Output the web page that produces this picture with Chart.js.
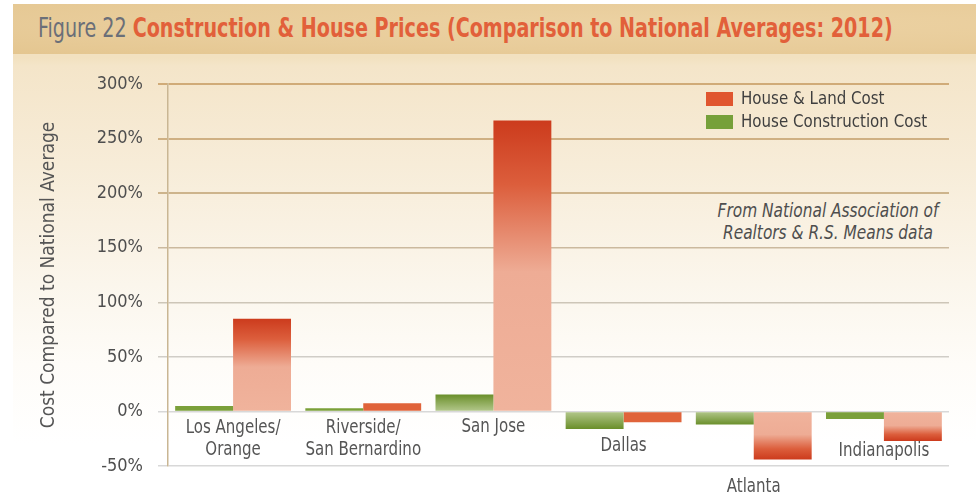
<!DOCTYPE html>
<html>
<head>
<meta charset="utf-8">
<script src="https://cdn.jsdelivr.net/npm/chart.js@4.4.0/dist/chart.umd.min.js"></script>
<style>
  body { margin: 0; width: 976px; height: 496px; overflow: hidden; background: #fff; position: relative;
         font-family: "DejaVu Sans Condensed", "Liberation Sans Narrow", sans-serif; }
  #panel { position: absolute; left: 13px; top: 4px; right: 0; bottom: 0;
           background: linear-gradient(#f2e1c0 0, #f2e1c0 54px, #f4e5c9 62px, #f7ecd8 160px, #fbf6ec 280px, #fefcf8 360px, #fff 440px); }
  #band { position: absolute; left: 13px; top: 4px; right: 0; height: 50px;
          background: radial-gradient(ellipse at 70% 40%, #ecd2a3 0, #e8cc9a 60%, #e4c690 100%); }
  #title { position: absolute; left: 38px; top: 14px; font-size: 27px; line-height: 27px; white-space: nowrap;
           transform-origin: 0 50%; }
  #title .fig { color: #6b6f78; }
  #title .main { color: #e2603a; font-weight: bold; }
  #note { position: absolute; left: 688px; width: 280px; top: 199px; text-align: center; white-space: nowrap;
          font-size: 19px; line-height: 22px; font-style: italic; color: #4e4e4e; transform: scaleX(0.9); }
  canvas { position: absolute; left: 0; top: 0; }
</style>
</head>
<body>
<div id="panel"></div>
<div id="band"></div>
<div id="title"><span class="fig">Figure 22 </span><span class="main">Construction &amp; House Prices (Comparison to National Averages: 2012)</span></div>
<div id="note">From National Association of<br>Realtors &amp; R.S. Means data</div>
<canvas id="chart" width="976" height="496"></canvas>
<script>
// data (percent vs national average)
const categories = [['Los Angeles/', 'Orange'], ['Riverside/', 'San Bernardino'], ['San Jose'], ['Dallas'], ['Atlanta'], ['Indianapolis']];
const constructionCost = [5, 3, 15.5, -16, -12, -7];
const houseLandCost = [85, 7.5, 266.5, -10, -44, -27];
const seriesNames = ['House Construction Cost', 'House & Land Cost'];
const yMin = -50, yMax = 300, yStep = 50;

const FONT = '"DejaVu Sans Condensed", "Liberation Sans Narrow", sans-serif';

// squeeze the title to the width of the original condensed face
const titleEl = document.getElementById('title');
titleEl.style.transform = 'scaleX(' + (855 / titleEl.offsetWidth) + ')';

// gradient bars: dark at the tip, pale toward zero
function barFill(ctx, kind) {
    const solid = kind === 'red' ? '#e0633a' : '#7ba03a';
    const chart = ctx.chart;
    if (!chart.chartArea || ctx.type !== 'data') return solid;
    const y = chart.scales.y;
    const tip = y.getPixelForValue(ctx.raw);
    const base = y.getPixelForValue(0);
    if (Math.abs(base - tip) < 12) return solid; // short bars are flat
    const g = chart.ctx.createLinearGradient(0, tip, 0, base);
    if (kind === 'red') {
        g.addColorStop(0, '#cc3b1d');
        g.addColorStop(0.22, '#dc5e3c');
        g.addColorStop(0.52, '#eeac95');
        g.addColorStop(1, '#f0b39c');
    } else {
        g.addColorStop(0, '#6a8f2a');
        g.addColorStop(1, '#b4c88d');
    }
    return g;
}

// horizontally condensed text, like the narrow face in the original
function narrowText(ctx, text, x, y, squeeze) {
    ctx.save();
    ctx.translate(x, y);
    ctx.scale(squeeze, 1);
    ctx.fillText(text, 0, 0);
    ctx.restore();
}

// category names sit under the bars at different depths
const categoryLabels = {
    id: 'categoryLabels',
    afterDatasetsDraw(chart, args, opts) {
        const { ctx, scales: { x, y } } = chart;
        const zero = y.getPixelForValue(0);
        ctx.save();
        ctx.font = '19px ' + FONT;
        ctx.fillStyle = '#555555';
        ctx.textAlign = 'center';
        ctx.textBaseline = 'middle';
        categories.forEach((lines, i) => {
            const cx = x.getPixelForValue(i);
            lines.forEach((t, j) => narrowText(ctx, t, cx, zero + opts.drop[i] + j * 22, 0.88));
        });
        ctx.restore();
    }
};

// legend drawn top-right, red series first
const boxLegend = {
    id: 'boxLegend',
    afterDraw(chart, args, opts) {
        const { ctx } = chart;
        const items = chart.data.datasets.slice().reverse();
        ctx.save();
        ctx.font = '18px ' + FONT;
        ctx.textBaseline = 'middle';
        items.forEach((ds, i) => {
            const top = opts.y + i * 23;
            ctx.fillStyle = ds.legendColor;
            ctx.fillRect(opts.x, top, 27, 14);
            ctx.fillStyle = '#3f3f3f';
            narrowText(ctx, ds.label, opts.x + 35, top + 7, 0.93);
        });
        ctx.restore();
    }
};

const gridColors = { '300': '#d0ab78', '250': '#cfb083', '200': '#cdb48c', '150': '#cbb99e', '100': '#cdc6b8', '50': '#d0cdc7' };

new Chart(document.getElementById('chart'), {
    type: 'bar',
    data: {
        labels: categories.map((c) => c.join(' ')),
        datasets: [
            {
                label: seriesNames[0],
                data: constructionCost,
                legendColor: '#76a03a',
                backgroundColor: (c) => barFill(c, 'green'),
                categoryPercentage: 0.89,
                barPercentage: 1.0,
            },
            {
                label: seriesNames[1],
                data: houseLandCost,
                legendColor: '#e0562f',
                backgroundColor: (c) => barFill(c, 'red'),
                categoryPercentage: 0.89,
                barPercentage: 1.0,
            },
        ],
    },
    options: {
        responsive: false,
        devicePixelRatio: 1,
        animation: false,
        layout: { padding: { left: 0, top: 84, right: 27, bottom: 30 } },
        plugins: {
            legend: { display: false },
            tooltip: { enabled: false },
            categoryLabels: { drop: [17, 17, 16, 35, 76, 40] },
            boxLegend: { x: 706, y: 92 },
        },
        scales: {
            x: { display: false },
            y: {
                min: yMin,
                max: yMax,
                z: 1,
                afterFit: (scale) => { scale.width = 168; },
                ticks: {
                    stepSize: yStep,
                    padding: 15,
                    color: '#4e4e4e',
                    font: { family: FONT, size: 18 },
                    callback: (v) => v + '%',
                },
                grid: {
                    color: (c) => gridColors[c.tick.value] || '#d8d8d8',
                    lineWidth: (c) => (c.tick.value >= 200 ? 2 : 1.5),
                    tickLength: 10,
                },
                border: { color: '#c9b693', width: 1.5 },
                title: {
                    display: true,
                    text: 'Cost Compared to National Average',
                    color: '#555555',
                    font: { family: FONT, size: 19 },
                    padding: { top: 38 },
                },
            },
        },
    },
    plugins: [categoryLabels, boxLegend],
});
</script>
</body>
</html>
